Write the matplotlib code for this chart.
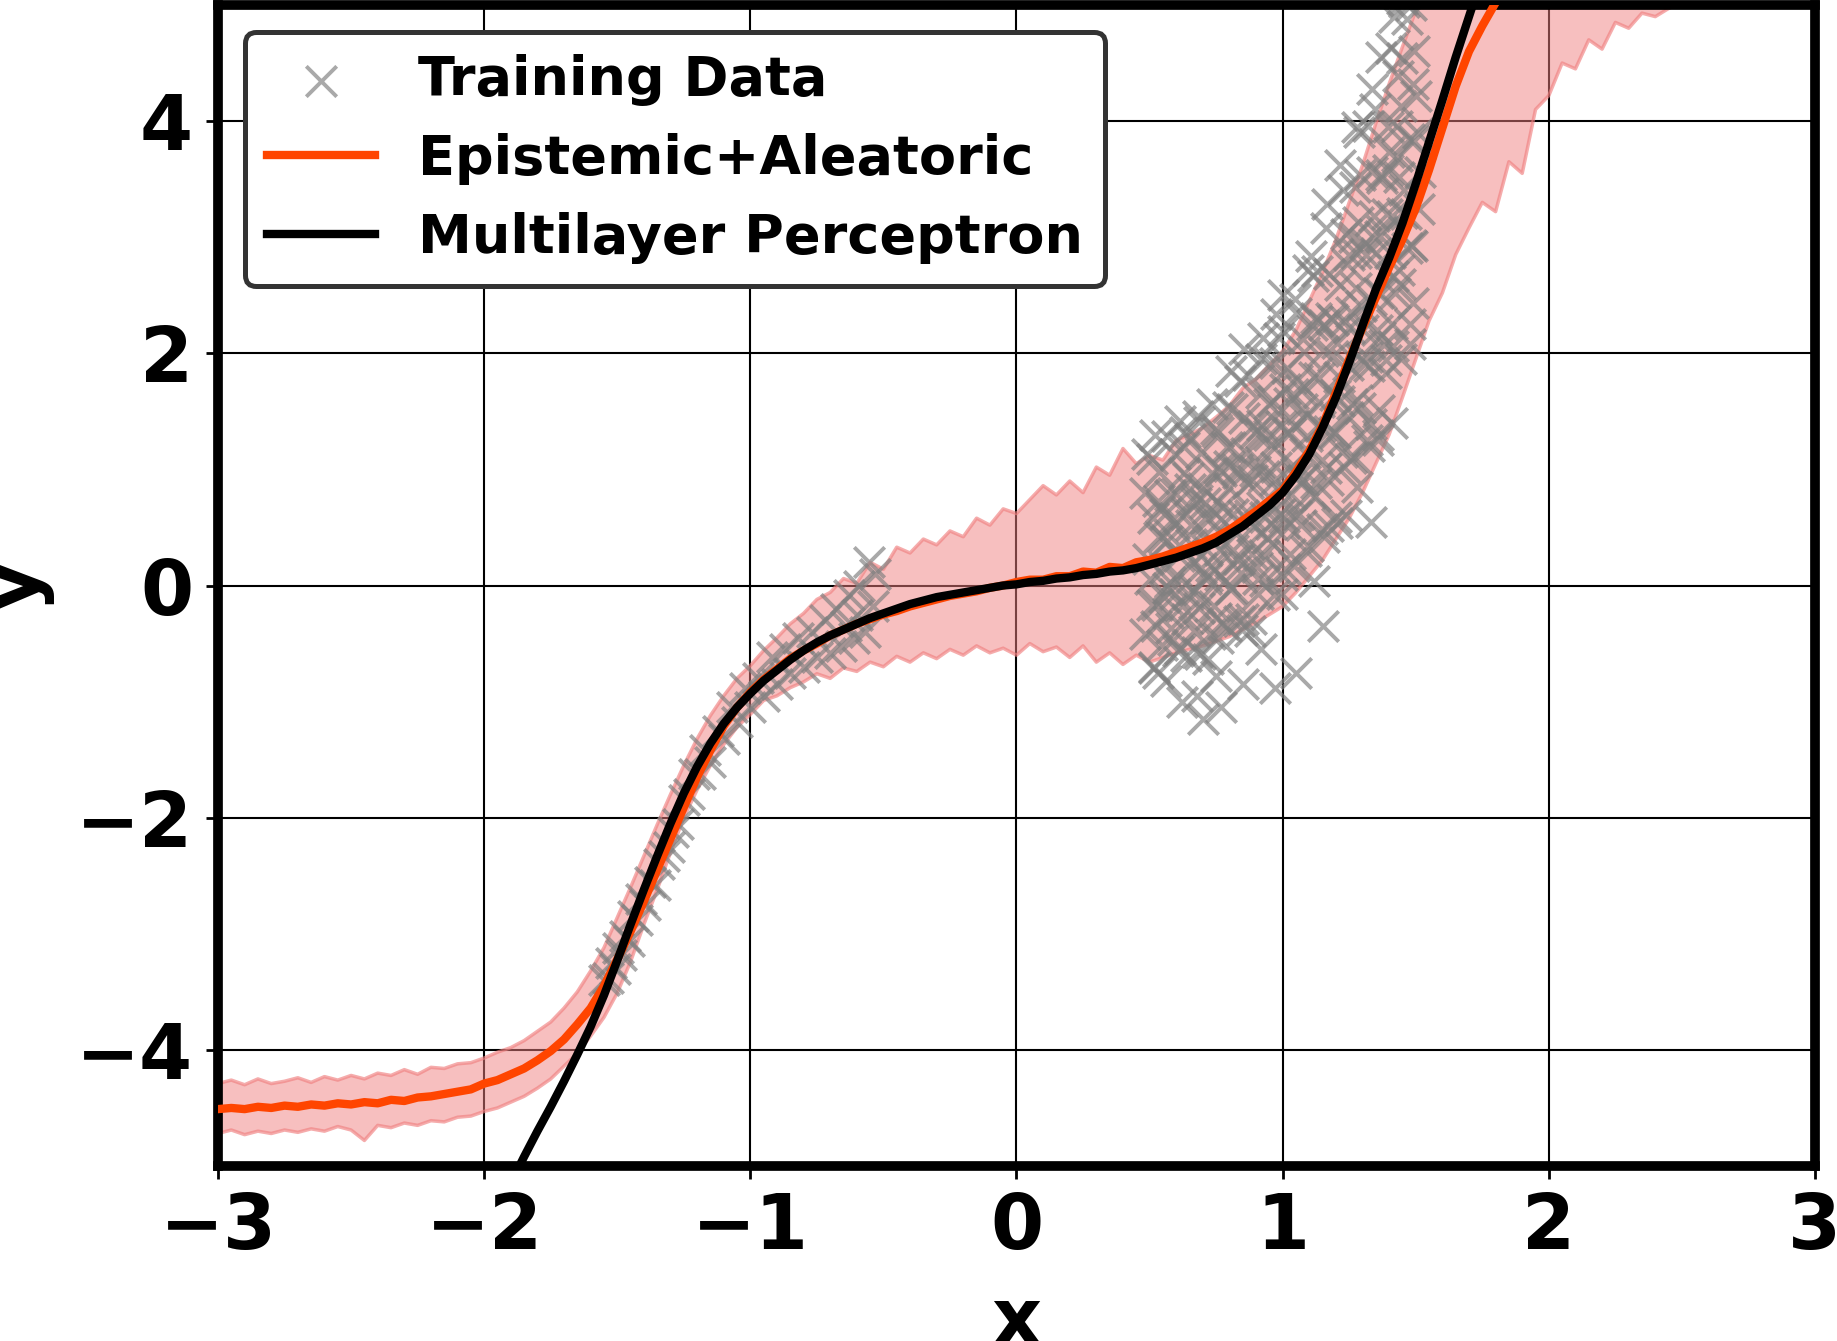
import numpy as np
import matplotlib
matplotlib.use("Agg")
import matplotlib.pyplot as plt

plt.rcParams['font.family'] = ['DejaVu Sans']
plt.rcParams['font.weight'] = 'bold'
plt.rcParams['axes.labelweight'] = 'bold'

# ---------------- data ----------------
# prediction grid (step 0.05 from -3 to 2.5)
grid_x = np.round(np.arange(-3.0, 2.5001, 0.05), 2)

pred_mean = [
    -4.51, -4.50, -4.51, -4.49, -4.50, -4.48, -4.49, -4.47, -4.48, -4.46,
    -4.47, -4.45, -4.46, -4.43, -4.44, -4.41, -4.40, -4.38, -4.36, -4.34,
    -4.29, -4.26, -4.21, -4.16, -4.09, -4.01, -3.91, -3.78, -3.64, -3.45,
    -3.22, -2.98, -2.72, -2.45, -2.18, -1.91, -1.65, -1.42, -1.21, -1.05,
    -0.92, -0.81, -0.72, -0.63, -0.56, -0.50, -0.43, -0.38, -0.33, -0.29,
    -0.25, -0.22, -0.18, -0.15, -0.12, -0.09, -0.07, -0.05, -0.02, 0.00,
    0.03, 0.05, 0.05, 0.08, 0.08, 0.12, 0.11, 0.16, 0.15, 0.20,
    0.22, 0.25, 0.29, 0.33, 0.37, 0.42, 0.48, 0.56, 0.64, 0.73,
    0.82, 0.98, 1.16, 1.38, 1.66, 1.95, 2.22, 2.48, 2.74, 2.98,
    3.25, 3.58, 3.94, 4.30, 4.60, 4.82, 5.02, 5.25, 5.45, 5.65,
    5.85, 6.05, 6.25, 6.40, 6.55, 6.70, 6.85, 7.00, 7.15, 7.30,
    7.45,
]

pred_upper = [
    -4.29, -4.26, -4.30, -4.25, -4.29, -4.27, -4.24, -4.28, -4.23, -4.26,
    -4.22, -4.25, -4.20, -4.22, -4.17, -4.21, -4.15, -4.16, -4.12, -4.11,
    -4.07, -4.02, -3.98, -3.92, -3.84, -3.76, -3.64, -3.50, -3.32, -3.12,
    -2.86, -2.60, -2.33, -2.06, -1.80, -1.55, -1.32, -1.12, -0.95, -0.80,
    -0.69, -0.56, -0.45, -0.33, -0.24, -0.12, -0.06, 0.06, 0.02, 0.20,
    0.14, 0.33, 0.28, 0.40, 0.35, 0.47, 0.42, 0.58, 0.52, 0.66,
    0.62, 0.74, 0.86, 0.78, 0.90, 0.80, 1.02, 0.95, 1.18, 1.05,
    1.12, 1.08, 1.25, 1.30, 1.36, 1.45, 1.55, 1.70, 1.78, 1.90,
    2.02, 2.20, 2.45, 2.70, 2.98, 3.30, 3.62, 3.98, 4.32, 4.64,
    4.95, 5.25, 5.60, 5.90, 6.20, 6.50, 6.80, 7.00, 7.20, 7.40,
    7.60, 7.80, 8.00, 8.20, 8.40, 8.60, 8.80, 9.00, 9.20, 9.40,
    9.60,
]

pred_lower = [
    -4.72, -4.69, -4.73, -4.70, -4.72, -4.69, -4.71, -4.68, -4.70, -4.66,
    -4.69, -4.78, -4.65, -4.67, -4.63, -4.65, -4.61, -4.62, -4.58, -4.57,
    -4.53, -4.50, -4.45, -4.40, -4.33, -4.25, -4.14, -4.03, -3.88, -3.72,
    -3.51, -3.24, -2.92, -2.62, -2.30, -2.00, -1.76, -1.55, -1.37, -1.22,
    -1.11, -0.99, -0.95, -0.88, -0.83, -0.76, -0.80, -0.71, -0.74, -0.66,
    -0.70, -0.61, -0.66, -0.58, -0.63, -0.55, -0.60, -0.52, -0.58, -0.54,
    -0.60, -0.50, -0.57, -0.53, -0.62, -0.52, -0.66, -0.58, -0.68, -0.60,
    -0.66, -0.62, -0.58, -0.55, -0.52, -0.48, -0.44, -0.38, -0.32, -0.25,
    -0.18, -0.06, 0.08, 0.22, 0.40, 0.58, 0.80, 1.05, 1.30, 1.62,
    1.95, 2.28, 2.52, 2.85, 3.08, 3.30, 3.22, 3.65, 3.55, 4.10,
    4.22, 4.50, 4.45, 4.70, 4.62, 4.85, 4.80, 4.93, 4.90, 4.97,
    5.02,
]

# Multilayer perceptron prediction
mlp_x = [-1.90, -1.85, -1.80, -1.75, -1.70, -1.65, -1.60, -1.55, -1.50, -1.45,
         -1.40, -1.35, -1.30, -1.25, -1.20, -1.15, -1.10, -1.05, -1.00, -0.95,
         -0.90, -0.85, -0.80, -0.75, -0.70, -0.65, -0.60, -0.55, -0.50, -0.45,
         -0.40, -0.35, -0.30, -0.25, -0.20, -0.15, -0.10, -0.05, 0.00, 0.05,
         0.10, 0.15, 0.20, 0.25, 0.30, 0.35, 0.40, 0.45, 0.50, 0.55,
         0.60, 0.65, 0.70, 0.75, 0.80, 0.85, 0.90, 0.95, 1.00, 1.05,
         1.10, 1.15, 1.20, 1.25, 1.30, 1.35, 1.40, 1.45, 1.50, 1.55,
         1.60, 1.65, 1.70, 1.75, 1.80]
mlp_y = [-5.15, -4.92, -4.70, -4.49, -4.27, -4.04, -3.80, -3.53, -3.23, -2.92,
         -2.62, -2.33, -2.05, -1.79, -1.56, -1.36, -1.19, -1.05, -0.93, -0.82,
         -0.73, -0.64, -0.56, -0.49, -0.43, -0.38, -0.33, -0.28, -0.24, -0.20,
         -0.16, -0.13, -0.10, -0.08, -0.06, -0.04, -0.02, 0.00, 0.01, 0.03,
         0.04, 0.06, 0.07, 0.09, 0.10, 0.12, 0.13, 0.15, 0.18, 0.21,
         0.24, 0.28, 0.32, 0.37, 0.44, 0.51, 0.60, 0.69, 0.80, 0.95,
         1.13, 1.36, 1.62, 1.92, 2.24, 2.55, 2.82, 3.12, 3.46, 3.82,
         4.18, 4.55, 4.90, 5.25, 5.60]

# Training data: left cluster
train_x_left = [-1.548, -1.535, -1.522, -1.510, -1.497, -1.485, -1.470, -1.456, -1.440, -1.425,
                -1.410, -1.395, -1.378, -1.360, -1.342, -1.325, -1.306, -1.290, -1.270, -1.250,
                -1.230, -1.210, -1.190, -1.170, -1.150, -1.120, -1.100, -1.070, -1.050, -1.020,
                -1.000, -0.970, -0.950, -0.920, -0.900, -0.870, -0.850, -0.820, -0.800, -0.770,
                -0.750, -0.720, -0.700, -0.680, -0.660, -0.630, -0.610, -0.590, -0.570, -0.555,
                -0.540, -0.530, -0.600, -0.640]
train_y_left = [-3.40, -3.38, -3.25, -3.30, -3.12, -3.18, -3.02, -3.06, -2.85, -2.88,
                -2.70, -2.75, -2.55, -2.58, -2.40, -2.33, -2.25, -2.12, -2.05, -1.85,
                -1.80, -1.62, -1.62, -1.42, -1.52, -1.25, -1.32, -1.05, -1.18, -0.88,
                -1.05, -0.80, -0.95, -0.62, -0.85, -0.55, -0.75, -0.45, -0.70, -0.40,
                -0.62, -0.30, -0.58, -0.20, -0.52, -0.08, -0.45, 0.00, -0.40, 0.20,
                -0.18, 0.10, -0.25, -0.35]

# Training data: right cluster
train_x_right = [
    0.484, 0.509, 0.495, 0.517, 0.490, 0.502, 0.513, 0.481,
    0.524, 0.549, 0.535, 0.557, 0.530, 0.542, 0.553, 0.521,
    0.564, 0.589, 0.575, 0.597, 0.570, 0.582, 0.593, 0.561,
    0.604, 0.629, 0.615, 0.637, 0.610, 0.622, 0.633, 0.601,
    0.644, 0.669, 0.655, 0.677, 0.650, 0.662, 0.673, 0.641,
    0.684, 0.709, 0.695, 0.717, 0.690, 0.702, 0.713, 0.681,
    0.724, 0.749, 0.735, 0.757, 0.730, 0.742, 0.753, 0.721,
    0.764, 0.789, 0.775, 0.797, 0.770, 0.782, 0.793, 0.761,
    0.804, 0.829, 0.815, 0.837, 0.810, 0.822, 0.833, 0.801,
    0.844, 0.869, 0.855, 0.877, 0.850, 0.862, 0.873, 0.841,
    0.884, 0.909, 0.895, 0.917, 0.890, 0.902, 0.913, 0.881,
    0.924, 0.949, 0.935, 0.957, 0.930, 0.942, 0.953, 0.921,
    0.964, 0.989, 0.975, 0.997, 0.970, 0.982, 0.993, 0.961,
    1.004, 1.029, 1.015, 1.037, 1.010, 1.022, 1.033, 1.001,
    1.044, 1.069, 1.055, 1.077, 1.050, 1.062, 1.073, 1.041,
    1.084, 1.109, 1.095, 1.117, 1.090, 1.102, 1.113, 1.081,
    1.124, 1.149, 1.135, 1.157, 1.130, 1.142, 1.153, 1.121,
    1.164, 1.189, 1.175, 1.197, 1.170, 1.182, 1.193, 1.161,
    1.204, 1.229, 1.215, 1.237, 1.210, 1.222, 1.233, 1.201,
    1.244, 1.269, 1.255, 1.277, 1.250, 1.262, 1.273, 1.241,
    1.284, 1.309, 1.295, 1.317, 1.290, 1.302, 1.313, 1.281,
    1.324, 1.349, 1.335, 1.357, 1.330, 1.342, 1.353, 1.321,
    1.364, 1.389, 1.375, 1.397, 1.370, 1.382, 1.393, 1.361,
    1.404, 1.429, 1.415, 1.437, 1.410, 1.422, 1.433, 1.401,
    1.444, 1.469, 1.455, 1.477, 1.450, 1.462, 1.473, 1.441,
    1.484, 1.509, 1.495, 1.517, 1.490, 1.502, 1.513, 1.481,
    0.700, 0.620, 0.770, 0.850, 0.970, 1.050, 1.150, 0.920, 0.750, 0.680,
    0.920, 1.000, 1.050, 1.370, 1.420, 1.450, 1.280, 1.330, 1.280, 1.360, 1.410,
    0.508, 0.526, 0.535, 0.517, 0.530,
    0.548, 0.566, 0.575, 0.557, 0.570,
    0.588, 0.606, 0.615, 0.597, 0.610,
    0.628, 0.646, 0.655, 0.637, 0.650,
    0.668, 0.686, 0.695, 0.677, 0.690,
    0.708, 0.726, 0.735, 0.717, 0.730,
    0.748, 0.766, 0.775, 0.757, 0.770,
    0.788, 0.806, 0.815, 0.797, 0.810,
    0.828, 0.846, 0.855, 0.837, 0.850,
    0.868, 0.886, 0.895, 0.877, 0.890,
    0.908, 0.926, 0.935, 0.917, 0.930,
    0.948, 0.966, 0.975, 0.957, 0.970,
    0.988, 1.006, 1.015, 0.997, 1.010,
    1.028, 1.046, 1.055, 1.037, 1.050,
    1.068, 1.086, 1.095, 1.077, 1.090,
    1.108, 1.126, 1.135, 1.117, 1.130,
    1.148, 1.166, 1.175, 1.157, 1.170,
    1.188, 1.206, 1.215, 1.197, 1.210,
    1.228, 1.246, 1.255, 1.237, 1.250,
    1.268, 1.286, 1.295, 1.277, 1.290,
    1.308, 1.326, 1.335, 1.317, 1.330,
    1.348, 1.366, 1.375, 1.357, 1.370,
    1.388, 1.406, 1.415, 1.397, 1.410,
    1.428, 1.446, 1.455, 1.437, 1.450,
    1.468, 1.486, 1.495, 1.477, 1.490,
]
train_y_right = [
    0.80, -0.17, 0.23, -0.70, 1.13, 0.06, 0.58, -0.42,
    -0.35, 0.42, 0.98, 0.15, -0.75, 0.68, -0.10, 1.30,
    0.38, -0.47, 0.78, 1.13, -0.02, -0.37, 0.53, -0.82,
    0.09, 0.97, -0.55, 0.62, 0.35, -0.18, 1.32, 0.79,
    0.93, -0.04, 0.36, -0.57, 1.26, 0.19, 0.71, -0.29,
    -0.19, 0.58, 1.14, 0.31, -0.59, 0.84, 0.06, 1.46,
    0.57, -0.28, 0.97, 1.32, 0.17, -0.18, 0.72, -0.63,
    0.31, 1.19, -0.33, 0.84, 0.57, 0.04, 1.54, 1.01,
    1.19, 0.22, 0.62, -0.31, 1.52, 0.45, 0.97, -0.03,
    0.11, 0.88, 1.44, 0.61, -0.29, 1.14, 0.36, 1.76,
    0.91, 0.06, 1.31, 1.66, 0.51, 0.16, 1.06, -0.29,
    0.68, 1.56, 0.04, 1.21, 0.94, 0.41, 1.91, 1.38,
    1.59, 0.62, 1.02, 0.09, 1.92, 0.85, 1.37, 0.37,
    0.54, 1.31, 1.87, 1.04, 0.14, 1.57, 0.79, 2.19,
    1.37, 0.52, 1.77, 2.12, 0.97, 0.62, 1.52, 0.17,
    1.14, 2.24, 0.34, 1.80, 1.46, 0.80, 2.67, 2.01,
    2.30, 1.08, 1.58, 0.42, 2.71, 1.37, 2.02, 0.77,
    1.01, 1.98, 2.68, 1.64, 0.51, 2.30, 1.32, 3.08,
    2.09, 1.02, 2.59, 3.03, 1.59, 1.15, 2.28, 0.59,
    1.90, 3.00, 1.10, 2.56, 2.22, 1.56, 3.43, 2.77,
    3.13, 1.91, 2.41, 1.25, 3.54, 2.20, 2.85, 1.60,
    1.89, 2.86, 3.56, 2.52, 1.39, 3.18, 2.20, 3.96,
    3.01, 1.94, 3.51, 3.95, 2.51, 2.07, 3.20, 1.51,
    2.86, 3.96, 2.06, 3.52, 3.18, 2.52, 4.39, 3.73,
    4.13, 2.91, 3.41, 2.25, 4.54, 3.20, 3.85, 2.60,
    2.93, 3.90, 4.60, 3.56, 2.43, 4.22, 3.24, 5.00,
    -1.15, -1.00, -1.05, -0.85, -0.88, -0.75, -0.35, -0.55, -0.78, -0.95,
    1.95, 2.50, 2.35, 4.55, 4.90, 5.05, 3.95, 0.55, 0.85, 1.25, 1.40,
    1.09, -0.17, 0.42, -0.71, 0.73,
    -0.51, 1.29, 0.03, 0.62, -0.24,
    0.57, -0.56, 1.42, -0.07, 0.25,
    1.19, -0.07, 0.52, -0.61, 0.83,
    -0.39, 1.41, 0.15, 0.74, -0.12,
    0.71, -0.42, 1.56, 0.08, 0.39,
    1.35, 0.09, 0.68, -0.45, 0.99,
    -0.35, 1.85, 0.31, 1.03, -0.02,
    1.00, -0.38, 2.04, 0.23, 0.61,
    1.81, 0.27, 0.99, -0.39, 1.37,
    -0.07, 2.13, 0.59, 1.31, 0.26,
    1.30, -0.08, 2.34, 0.53, 0.91,
    2.13, 0.59, 1.31, -0.07, 1.69,
    0.27, 2.47, 0.93, 1.65, 0.60,
    1.68, 0.30, 2.72, 0.91, 1.29,
    2.84, 0.88, 1.79, 0.04, 2.28,
    0.49, 3.29, 1.33, 2.24, 0.91,
    2.29, 0.54, 3.62, 1.31, 1.80,
    3.41, 1.45, 2.36, 0.61, 2.85,
    1.11, 3.91, 1.95, 2.86, 1.53,
    2.95, 1.20, 4.28, 1.97, 2.46,
    4.10, 2.14, 3.05, 1.30, 3.54,
    1.83, 4.63, 2.67, 3.58, 2.25,
    3.70, 1.95, 5.03, 2.72, 3.21,
    4.88, 2.92, 3.83, 2.08, 4.32,
]

train_x = train_x_left + train_x_right
train_y = train_y_left + train_y_right

x_ticks = [-3, -2, -1, 0, 1, 2, 3]
y_ticks = [-4, -2, 0, 2, 4]

# ---------------- figure ----------------
W, H = 1837, 1341
fig = plt.figure(figsize=(W / 100, H / 100), dpi=100)
ax = fig.add_axes([218 / W, 1 - 1166 / H, (1815 - 218) / W, (1166 - 5) / H])

ax.fill_between(grid_x, pred_lower, pred_upper, color='lightcoral', alpha=0.5,
                linewidth=0, zorder=1)
ax.plot(grid_x, pred_upper, color='lightcoral', alpha=0.65, linewidth=2.5, zorder=1.1)
ax.plot(grid_x, pred_lower, color='lightcoral', alpha=0.65, linewidth=2.5, zorder=1.1)
sc = ax.scatter(train_x, train_y, marker='x', s=480, color='gray', alpha=0.68,
                linewidths=2.8, zorder=2, label='Training Data')
l1, = ax.plot(grid_x, pred_mean, color='#FF4500', linewidth=6, zorder=3,
              label='Epistemic+Aleatoric')
l2, = ax.plot(mlp_x, mlp_y, color='black', linewidth=6, zorder=4,
              label='Multilayer Perceptron')

ax.set_xlim(-3, 3)
ax.set_ylim(-5, 5)
ax.set_xticks(x_ticks)
ax.set_yticks(y_ticks)
ax.grid(True, color='black', linewidth=1.5)
ax.set_axisbelow(True)
ax.tick_params(axis='both', labelsize=55, length=9, width=2, pad=9)
for lab in ax.get_xticklabels() + ax.get_yticklabels():
    lab.set_fontweight('bold')
for sp in ax.spines.values():
    sp.set_linewidth(7)

ax.set_xlabel('x', fontsize=56, fontweight='bold', labelpad=14)
ax.set_ylabel('y', fontsize=56, fontweight='bold', labelpad=16)

leg = ax.legend(handles=[sc, l1, l2], loc='upper left',
                prop={'weight': 'bold', 'size': 39}, labelspacing=0.5,
                framealpha=1, edgecolor='#333333', fancybox=True)
leg.get_frame().set_linewidth(3.6)

fig.savefig('out.png', dpi=100)
